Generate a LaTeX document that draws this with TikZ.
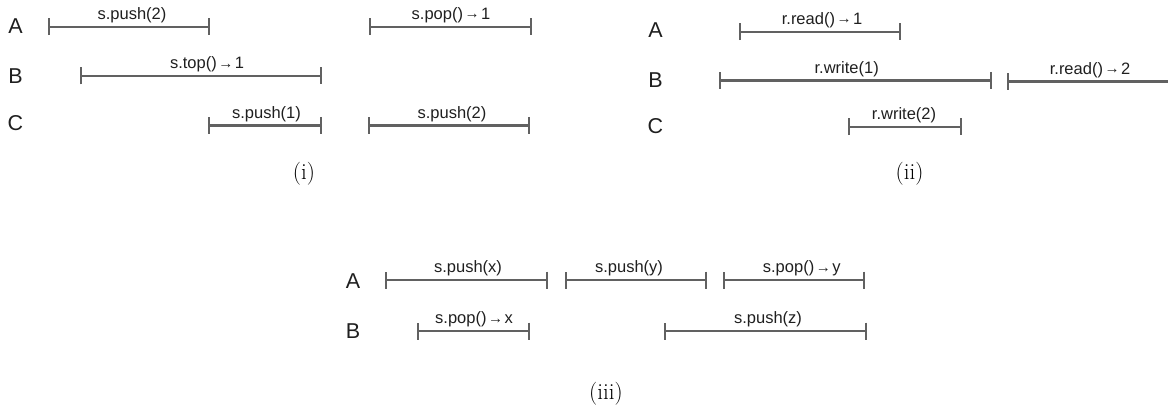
\documentclass[tikz,border=0pt]{standalone}
\usepackage{fontspec}
\setsansfont{Liberation Sans}
\usetikzlibrary{arrows.meta}
\newcommand\opar{\hspace{1.5pt}\raisebox{0.5pt}{\fontsize{15}{15}\selectfont →}\hspace{1.5pt}}
\tikzset{
  ivl/.style={draw=black!62, line width=2.2pt, {Bar[width=17pt,line width=2pt]}-{Bar[width=17pt,line width=2pt]}},
  oplabel/.style={anchor=base, inner sep=0pt, text=black!88, font=\sffamily\fontsize{16.5}{18}\selectfont},
  rowlabel/.style={anchor=center, inner sep=0pt, text=black!88, font=\sffamily\fontsize{21.5}{24}\selectfont},
  caplabel/.style={anchor=center, inner sep=0pt, font=\fontsize{23}{26}\selectfont}
}
% \ivlop{name}{x1}{x2}{y}{textx}{label}
\newcommand\ivlop[6]{%
  \coordinate (#1-s) at (#2,#4);
  \coordinate (#1-e) at (#3,#4);
  \draw[ivl] (#1-s) -- (#1-e);
  \node[oplabel] (#1-t) at (#5,#4-7.3) {#6};
}
\begin{document}
\begin{tikzpicture}[x=1pt,y=-1pt]
\useasboundingbox (0,0) rectangle (1168,409);
\clip (0,0) rectangle (1168,409);
% ---------- (i) ----------
\node[rowlabel] (iA) at (15.5,26) {A};
\node[rowlabel] (iB) at (15.5,76) {B};
\node[rowlabel] (iC) at (15.5,123.5) {C};
\ivlop{ia1}{48}{210}{26.7}{132}{s.push(2)}
\ivlop{ia2}{369}{532}{26.7}{451}{s.pop()\opar 1}
\ivlop{ib1}{80}{322}{76}{207}{s.top()\opar 1}
\ivlop{ic1}{208}{322}{125.5}{266.5}{s.push(1)}
\ivlop{ic2}{368}{530}{125.5}{452}{s.push(2)}
\node[caplabel] (capi) at (304,173.5) {(i)};
% ---------- (ii) ----------
\node[rowlabel] (iiA) at (655.5,30.5) {A};
\node[rowlabel] (iiB) at (655.5,80) {B};
\node[rowlabel] (iiC) at (655.5,126.5) {C};
\ivlop{iia1}{739}{901}{31.7}{822}{r.read()\opar 1}
\ivlop{iib1}{719}{992}{80.5}{846.7}{r.write(1)}
\ivlop{iib2}{1007}{1175}{81.5}{1090}{r.read()\opar 2}
\ivlop{iic1}{848}{962}{126.7}{904}{r.write(2)}
\node[caplabel] (capii) at (909.5,173.3) {(ii)};
% ---------- (iii) ----------
\node[rowlabel] (iiiA) at (353,281.5) {A};
\node[rowlabel] (iiiB) at (353,330.7) {B};
\ivlop{iiia1}{385}{548}{280}{468}{s.push(x)}
\ivlop{iiia2}{565}{707}{280}{629}{s.push(y)}
\ivlop{iiia3}{723}{865}{280}{801.7}{s.pop()\opar y}
\ivlop{iiib1}{417}{530}{331}{474}{s.pop()\opar x}
\ivlop{iiib2}{664}{867}{331}{768}{s.push(z)}
\node[caplabel] (capiii) at (606,394) {(iii)};
\end{tikzpicture}
\end{document}
